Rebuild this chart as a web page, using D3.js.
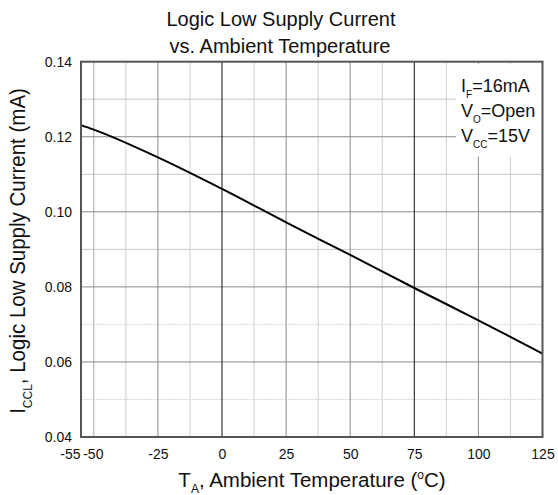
<!DOCTYPE html>
<html>
<head>
<meta charset="utf-8">
<script src="https://cdn.jsdelivr.net/npm/d3@7"></script>
<style>
  body { margin: 0; background: #fff; }
  svg text { font-family: "Liberation Sans", Arial, sans-serif; fill: #111; }
</style>
</head>
<body>
<svg id="chart" width="558" height="495"></svg>
<script>
// curve (temperature in degC, current in mA)
const temps = [-55, -50, -25, 0, 25, 50, 75, 100, 125];
const current = [0.1231, 0.1219, 0.1145, 0.1061, 0.0972, 0.0885, 0.0797, 0.0711, 0.0622];

const xTicks = [-55, -50, -25, 0, 25, 50, 75, 100, 125];
const yTicks = [0.04, 0.06, 0.08, 0.10, 0.12, 0.14];
const xMinor = [-50, -37.5, -12.5, 12.5, 37.5, 62.5, 87.5, 112.5];
const xMid = [-25, 25, 50, 100];
const xBold = [0, 75];
const yMinor = [0.05, 0.07, 0.09, 0.11, 0.13];
const yMid = [0.06, 0.08, 0.10, 0.12];

const svg = d3.select('#chart');
const pl = 81, pr = 542.5, pt = 61.7, pb = 437;

const x = d3.scaleLinear().domain([-55, 125]).range([pl, pr]);
const y = d3.scaleLinear().domain([0.04, 0.14]).range([pb, pt]);

// grid
const grid = svg.append('g');
grid.selectAll('.ym').data(yMinor).enter().append('line')
  .attr('x1', pl).attr('x2', pr)
  .attr('y1', d => y(d)).attr('y2', d => y(d))
  .attr('stroke', d => d < 0.08 ? '#d8d8d8' : '#c8c8c8')
  .attr('stroke-dasharray', d => d < 0.08 ? '2,1' : null)
  .attr('stroke-width', 1);
grid.selectAll('.xm').data(xMinor).enter().append('line')
  .attr('y1', pt).attr('y2', pb)
  .attr('x1', d => x(d)).attr('x2', d => x(d))
  .attr('stroke', d => d === -50 ? '#aaa' : '#cfcfcf')
  .attr('stroke-width', 1);
grid.selectAll('.yM').data(yMid).enter().append('line')
  .attr('x1', pl).attr('x2', pr)
  .attr('y1', d => y(d)).attr('y2', d => y(d))
  .attr('stroke', '#8a8a8a').attr('stroke-width', 1);
grid.selectAll('.xM').data(xMid).enter().append('line')
  .attr('y1', pt).attr('y2', pb)
  .attr('x1', d => x(d)).attr('x2', d => x(d))
  .attr('stroke', '#8a8a8a').attr('stroke-width', 1);
grid.selectAll('.xB').data(xBold).enter().append('line')
  .attr('y1', pt).attr('y2', pb)
  .attr('x1', d => x(d)).attr('x2', d => x(d))
  .attr('stroke', '#111').attr('stroke-width', 1);

// note box covers the grid
svg.append('rect')
  .attr('x', 456).attr('y', pt + 2).attr('width', pr - 457).attr('height', 93)
  .attr('fill', '#fff');

// curve
const line = d3.line()
  .x((d, i) => x(temps[i]))
  .y(d => y(d))
  .curve(d3.curveMonotoneX);
svg.append('path')
  .datum(current)
  .attr('d', line)
  .attr('fill', 'none')
  .attr('stroke', '#000')
  .attr('stroke-width', 2);

// frame
svg.append('rect')
  .attr('x', pl).attr('y', pt)
  .attr('width', pr - pl).attr('height', pb - pt)
  .attr('fill', 'none').attr('stroke', '#555').attr('stroke-width', 2);

// axes (labels only)
const xAxis = svg.append('g')
  .attr('transform', `translate(0,${pb})`)
  .call(d3.axisBottom(x).tickValues(xTicks).tickSize(0).tickPadding(12).tickFormat(d => String(d)));
xAxis.select('.domain').remove();
xAxis.selectAll('text')
  .style('font-size', '14px')
  .attr('text-anchor', d => d === -55 ? 'end' : 'middle')
  .attr('dx', d => d === -55 ? '-1' : (d === -50 ? '-1' : 0));

const yAxis = svg.append('g')
  .attr('transform', `translate(${pl},0)`)
  .call(d3.axisLeft(y).tickValues(yTicks).tickSize(0).tickPadding(9).tickFormat(d3.format('.2f')));
yAxis.select('.domain').remove();
yAxis.selectAll('text').style('font-size', '14px');

// titles
const title = svg.append('text')
  .attr('text-anchor', 'middle').style('font-size', '20px');
title.append('tspan').attr('x', 281).attr('y', 26).text('Logic Low Supply Current');
title.append('tspan').attr('x', 280).attr('y', 53).text('vs. Ambient Temperature');

const xl = svg.append('text')
  .attr('x', 312).attr('y', 487).attr('text-anchor', 'middle').style('font-size', '20.5px');
xl.append('tspan').text('T');
xl.append('tspan').attr('dy', 6).style('font-size', '12px').text('A');
xl.append('tspan').attr('dy', -6).text(', Ambient Temperature (');
xl.append('tspan').attr('dy', -8).style('font-size', '12px').text('o');
xl.append('tspan').attr('dy', 8).text('C)');

const yl = svg.append('text')
  .attr('transform', 'translate(25,251) rotate(-90) scale(1,1.12)')
  .attr('text-anchor', 'middle').style('font-size', '20.5px');
yl.append('tspan').text('I');
yl.append('tspan').attr('dy', 6).style('font-size', '12px').text('CCL');
yl.append('tspan').attr('dy', -6).text(', Logic Low Supply Current (mA)');

// conditions
const notes = [['I', 'F', '=16mA'], ['V', 'O', '=Open'], ['V', 'CC', '=15V']];
notes.forEach((n, i) => {
  const t = svg.append('text')
    .attr('x', 461).attr('y', 92 + i * 25).style('font-size', '18px');
  t.append('tspan').text(n[0]);
  t.append('tspan').attr('dy', 6).style('font-size', '10px').text(n[1]);
  t.append('tspan').attr('dy', -6).text(n[2]);
});
</script>
</body>
</html>
